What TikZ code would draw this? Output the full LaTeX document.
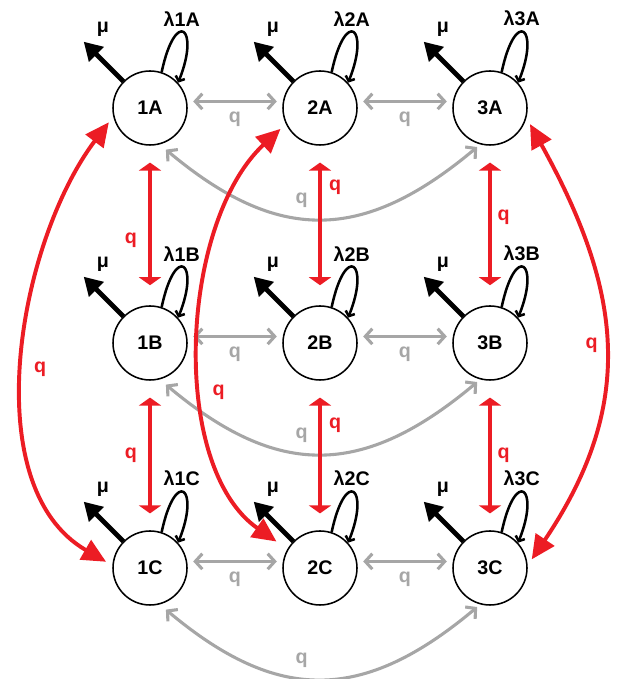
\documentclass[tikz,border=0pt]{standalone}
\usepackage{fontspec}
\setmainfont{Liberation Sans}
\usetikzlibrary{arrows.meta, positioning}
\definecolor{qred}{HTML}{EC1C24}
\definecolor{qgray}{HTML}{A6A6A6}
\newcommand{\labelfont}{\fontsize{14}{16}\selectfont\bfseries}
\tikzstyle{every node}=[font=\labelfont,inner sep=2pt]
\tikzstyle{state}=[draw,circle,line width=1.1pt,minimum size=1.85cm,inner sep=0pt]
\tikzstyle{death}=[line width=3.4pt,-{Triangle[length=0.45cm,width=0.5cm]}]
\tikzstyle{birth}=[line width=1.8pt,-{Straight Barb[length=3pt,width=7pt]}]
\tikzstyle{hop}=[qgray,line width=2.2pt,{Straight Barb[length=5pt,width=11pt]}-{Straight Barb[length=5pt,width=11pt]},shorten <=0.15cm,shorten >=0.15cm]
\tikzstyle{jump}=[qred,line width=2.8pt,{Triangle[length=0.2cm,width=0.55cm]}-{Triangle[length=0.2cm,width=0.55cm]}]
\tikzstyle{longjump}=[qred,line width=2.8pt,{Triangle[length=0.6cm,width=0.55cm]}-{Triangle[length=0.6cm,width=0.55cm]},shorten <=0.18cm,shorten >=0.18cm]
\tikzstyle{glabel}=[text=qgray]
\tikzstyle{rlabel}=[text=qred]

\begin{document}
\begin{tikzpicture}[node distance=4.25cm]
  \useasboundingbox (0,0) rectangle (15.475,16.975);
  % states
  \node[state] (1A) at (3.75,14.275) {1A};
  \node[state, right of=1A] (2A) {2A};
  \node[state, right of=2A] (3A) {3A};
  \node[state, below of=1A, node distance=5.875cm] (1B) {1B};
  \node[state, right of=1B] (2B) {2B};
  \node[state, right of=2B] (3B) {3B};
  \node[state, below of=1B, node distance=5.625cm] (1C) {1C};
  \node[state, right of=1C] (2C) {2C};
  \node[state, right of=2C] (3C) {3C};
  % death and birth
  \foreach \s in {1A,2A,3A,1B,2B,3B,1C,2C,3C} {
    \draw[death] (\s.135) -- +(135:1.4cm) node[xshift=0.48cm,yshift=0.3cm] {μ};
    \draw[birth] (\s.72) .. controls +(78:1.65cm) and +(68:1.5cm) .. (\s.42)
      node[pos=0.45,above=1pt] {λ\s};
  }
  % moves within a row
  \draw[hop] (1A.10) -- node[below=4pt,glabel] {q} (2A.170);
  \draw[hop] (2A.10) -- node[below=4pt,glabel] {q} (3A.170);
  \draw[hop] (1B.10) -- node[below=4pt,glabel] {q} (2B.170);
  \draw[hop] (2B.10) -- node[below=4pt,glabel] {q} (3B.170);
  \draw[hop] (1C.10) -- node[below=4pt,glabel] {q} (2C.170);
  \draw[hop] (2C.10) -- node[below=4pt,glabel] {q} (3C.170);
  \draw[hop,shorten <=0.2cm,shorten >=0.1cm] (1A.-75) to[out=-40,in=-140,looseness=1.23] node[pos=0.44,above=4pt,glabel] {q} (3A.-105);
  \draw[hop,shorten <=0.2cm,shorten >=0.1cm] (1B.-75) to[out=-40,in=-140,looseness=1.23] node[pos=0.44,above=4pt,glabel] {q} (3B.-105);
  \draw[hop,shorten <=0.2cm,shorten >=0.1cm] (1C.-75) to[out=-40,in=-140,looseness=1.23] node[pos=0.44,above=4pt,glabel] {q} (3C.-105);
  % moves within a column
  \draw[jump,shorten <=0.42cm,shorten >=0.5cm] (1A) -- node[pos=0.59,left=6pt,rlabel] {q} (1B);
  \draw[jump,shorten <=0.42cm,shorten >=0.5cm] (2A) -- node[pos=0.26,right=3pt,rlabel] {q} (2B);
  \draw[jump,shorten <=0.42cm,shorten >=0.5cm] (3A) -- node[pos=0.45,right=2pt,rlabel] {q} (3B);
  \draw[jump,shorten <=0.42cm,shorten >=0.42cm] (1B) -- node[pos=0.5,left=6pt,rlabel] {q} (1C);
  \draw[jump,shorten <=0.42cm,shorten >=0.42cm] (2B) -- node[pos=0.3,right=3pt,rlabel] {q} (2C);
  \draw[jump,shorten <=0.42cm,shorten >=0.42cm] (3B) -- node[pos=0.5,right=2pt,rlabel] {q} (3C);
  \draw[longjump] (1A.193) to[out=233,in=150,looseness=0.9] node[pos=0.52,right=3pt,rlabel] {q} (1C.176);
  \draw[longjump,shorten >=0.33cm] (2A.205) to[out=223,in=145,looseness=0.87] node[pos=0.6,right=2pt,rlabel] {q} (2C.150);
  \draw[longjump] (3A.-15) to[out=-61,in=56,looseness=1.12] node[pos=0.5,left=1pt,rlabel] {q} (3C.4);
\end{tikzpicture}
\end{document}
